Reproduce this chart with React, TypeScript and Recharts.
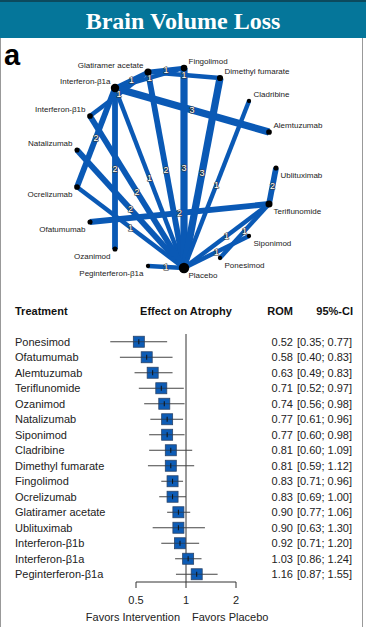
import React from 'react';
import { ScatterChart, Scatter, XAxis, YAxis, ReferenceLine, ErrorBar } from 'recharts';

// network nodes, layout units (x right, y up, centre of the ring at 0,0)
const NODE_NAMES = [
  'Fingolimod', 'Glatiramer acetate', 'Interferon-β1a', 'Interferon-β1b', 'Natalizumab',
  'Ocrelizumab', 'Ofatumumab', 'Ozanimod', 'Peginterferon-β1a', 'Placebo', 'Ponesimod',
  'Siponimod', 'Teriflunomide', 'Ublituximab', 'Alemtuzumab', 'Cladribine', 'Dimethyl fumarate',
];
const NODE_X = [0, -36, -69, -94, -107, -107, -94, -69, -36, 0, 36, 65, 85, 92, 85, 65, 36];
const NODE_Y = [100, 96, 80, 52, 18, -19, -54, -81, -98, -100, -90, -68, -36, 0, 36, 67, 90];

// direct comparisons: [treatment, treatment, number of studies]
const EDGES: [string, string, number][] = [
  ['Interferon-β1a', 'Glatiramer acetate', 1],
  ['Glatiramer acetate', 'Fingolimod', 1],
  ['Interferon-β1a', 'Fingolimod', 1],
  ['Glatiramer acetate', 'Dimethyl fumarate', 1],
  ['Interferon-β1b', 'Glatiramer acetate', 1],
  ['Interferon-β1a', 'Alemtuzumab', 3],
  ['Interferon-β1a', 'Ocrelizumab', 2],
  ['Interferon-β1a', 'Ozanimod', 2],
  ['Interferon-β1a', 'Placebo', 1],
  ['Glatiramer acetate', 'Placebo', 2],
  ['Fingolimod', 'Placebo', 3],
  ['Dimethyl fumarate', 'Placebo', 3],
  ['Cladribine', 'Placebo', 1],
  ['Interferon-β1b', 'Placebo', 2],
  ['Natalizumab', 'Placebo', 2],
  ['Ocrelizumab', 'Placebo', 1],
  ['Ofatumumab', 'Teriflunomide', 2],
  ['Ublituximab', 'Teriflunomide', 2],
  ['Teriflunomide', 'Placebo', 1],
  ['Teriflunomide', 'Ponesimod', 1],
  ['Siponimod', 'Placebo', 1],
  ['Peginterferon-β1a', 'Placebo', 1],
];

// forest plot
const TREATMENTS = [
  'Ponesimod', 'Ofatumumab', 'Alemtuzumab', 'Teriflunomide', 'Ozanimod', 'Natalizumab',
  'Siponimod', 'Cladribine', 'Dimethyl fumarate', 'Fingolimod', 'Ocrelizumab',
  'Glatiramer acetate', 'Ublituximab', 'Interferon-β1b', 'Interferon-β1a', 'Peginterferon-β1a',
];
const ROM = [0.52, 0.58, 0.63, 0.71, 0.74, 0.77, 0.77, 0.81, 0.81, 0.83, 0.83, 0.9, 0.9, 0.92, 1.03, 1.16];
const CI_LOW = [0.35, 0.4, 0.49, 0.52, 0.56, 0.61, 0.6, 0.6, 0.59, 0.71, 0.69, 0.77, 0.63, 0.71, 0.86, 0.87];
const CI_HIGH = [0.77, 0.83, 0.83, 0.97, 0.98, 0.96, 0.98, 1.09, 1.12, 0.96, 1.0, 1.06, 1.3, 1.2, 1.24, 1.55];
const X_TICKS = [0.5, 1, 2];

const BLUE = '#0a59b5';
const FONT = '"Liberation Sans", Arial, Helvetica, sans-serif';
const HEADER_ROW = -2;

const nodes = NODE_NAMES.map((name, i) => {
  const studies = EDGES.filter((e) => e[0] === name || e[1] === name).reduce((s, e) => s + e[2], 0);
  return { name, x: NODE_X[i], y: NODE_Y[i], studies };
});
const nodeByName = (n: string) => nodes.find((d) => d.name === n)!;
const edges = EDGES.map(([a, b, n]) => {
  const p = nodeByName(a);
  const q = nodeByName(b);
  return { a: p, b: q, n, x: (p.x + q.x) / 2, y: (p.y + q.y) / 2 };
});

const rows = TREATMENTS.map((name, i) => ({
  name,
  row: i,
  rom: ROM[i],
  err: [ROM[i] - CI_LOW[i], CI_HIGH[i] - ROM[i]],
}));

const NodeShape = (p: any) => {
  const { cx, cy, payload } = p;
  const r = 1.2 + 0.95 * Math.sqrt(payload.studies);
  const right = payload.x >= 0;
  const above = payload.y > 8;
  return (
    <g>
      <circle cx={cx} cy={cy} r={r} fill="#000" />
      <text
        x={cx + (right ? 4.5 : -4.5)}
        y={cy + (above ? -6.5 : 7.5)}
        dy="0.35em"
        textAnchor={right ? 'start' : 'end'}
        fontSize={8}
        fontFamily={FONT}
        fill="#222"
      >
        {payload.name}
      </text>
    </g>
  );
};

const EdgeLabel = (p: any) => (
  <text
    x={p.cx}
    y={p.cy}
    dy="0.36em"
    textAnchor="middle"
    fontSize={9}
    fontFamily={FONT}
    fill="#ffffff"
    stroke="#333"
    strokeWidth={1.2}
    paintOrder="stroke"
  >
    {p.payload.n}
  </text>
);

const Square = (p: any) => {
  const { cx, cy } = p;
  return (
    <g>
      <rect x={cx - 5.5} y={cy - 5.5} width={11} height={11} fill="#0d5cb6" stroke="#2b4468" strokeWidth={0.8} />
      <line x1={cx - 5.5} x2={cx + 5.5} y1={cy} y2={cy} stroke="#333" strokeWidth={0.6} />
      <line x1={cx} x2={cx} y1={cy - 2.5} y2={cy + 2.5} stroke="#111" strokeWidth={1} />
    </g>
  );
};

const RowTick = (p: any) => {
  const { y, payload } = p;
  const i = payload.value;
  if (i === HEADER_ROW) {
    return (
      <g fontSize={11} fontWeight="bold" fontFamily={FONT} fill="#111">
        <text x={15} y={y} dy="0.35em">Treatment</text>
        <text x={186} y={y} dy="0.35em" textAnchor="middle">Effect on Atrophy</text>
        <text x={293} y={y} dy="0.35em" textAnchor="end">ROM</text>
        <text x={353} y={y} dy="0.35em" textAnchor="end">95%-CI</text>
      </g>
    );
  }
  return (
    <g fontSize={11} fontFamily={FONT} fill="#222">
      <text x={15} y={y} dy="0.35em">{TREATMENTS[i]}</text>
      <text x={293} y={y} dy="0.35em" textAnchor="end">{ROM[i].toFixed(2)}</text>
      <text x={352} y={y} dy="0.35em" textAnchor="end">
        [{CI_LOW[i].toFixed(2)}; {CI_HIGH[i].toFixed(2)}]
      </text>
    </g>
  );
};

const AxisTick = (p: any) => {
  const { x, y, payload } = p;
  return (
    <g fontSize={11} fontFamily={FONT} fill="#222">
      <text x={x} y={y} dy="0.71em" textAnchor="middle">{payload.value}</text>
      {payload.value === 1 && (
        <>
          <text x={x - 6} y={y + 17} dy="0.71em" textAnchor="end">Favors Intervention</text>
          <text x={x + 6} y={y + 17} dy="0.71em" textAnchor="start">Favors Placebo</text>
        </>
      )}
    </g>
  );
};

export default function App() {
  return (
    <div
      style={{
        position: 'absolute',
        left: 0,
        top: 0,
        width: 366,
        height: 627,
        background: '#fff',
        overflow: 'hidden',
        fontFamily: FONT,
      }}
    >
      <div style={{ position: 'absolute', left: 0, top: 0, width: 366, height: 38, background: '#05769a' }} />
      <div style={{ position: 'absolute', left: 0, top: 0, width: 366, height: 2, background: '#0c4a5e' }} />
      <div
        style={{
          position: 'absolute',
          left: 0,
          top: 3,
          width: 366,
          lineHeight: '36px',
          textAlign: 'center',
          color: '#fff',
          fontFamily: '"Liberation Serif", "Times New Roman", serif',
          fontWeight: 'bold',
          fontSize: 24,
        }}
      >
        Brain Volume Loss
      </div>
      <div style={{ position: 'absolute', left: 0, top: 38, width: 1, height: 589, background: '#999' }} />
      <div style={{ position: 'absolute', left: 362, top: 38, width: 1, height: 589, background: '#999' }} />
      <div
        style={{
          position: 'absolute',
          left: 4,
          top: 41,
          fontSize: 29,
          lineHeight: '29px',
          fontWeight: 'bold',
          color: '#000',
        }}
      >
        a
      </div>

      <div style={{ position: 'absolute', left: 0, top: 40 }}>
        <ScatterChart width={366} height={250} margin={{ top: 0, right: 0, bottom: 0, left: 0 }}>
          <XAxis type="number" dataKey="x" domain={[-184, 182]} allowDataOverflow hide />
          <YAxis type="number" dataKey="y" domain={[-122, 128]} allowDataOverflow hide />
          {edges.map((e, i) => (
            <ReferenceLine
              key={i}
              segment={[{ x: e.a.x, y: e.a.y }, { x: e.b.x, y: e.b.y }]}
              stroke={BLUE}
              strokeWidth={3 + 1.4 * e.n}
              ifOverflow="visible"
            />
          ))}
          <Scatter data={edges} shape={EdgeLabel} isAnimationActive={false} />
          <Scatter data={nodes} shape={NodeShape} isAnimationActive={false} />
        </ScatterChart>
      </div>

      <div style={{ position: 'absolute', left: 0, top: 295 }}>
        <ScatterChart width={366} height={332} margin={{ top: 8, right: 0, bottom: 0, left: 0 }}>
          <XAxis
            type="number"
            dataKey="rom"
            scale="log"
            domain={[0.25, 4]}
            ticks={X_TICKS}
            axisLine={false}
            tickLine={{ stroke: '#333' }}
            tickSize={6}
            tickMargin={8}
            height={45}
            interval={0}
            tick={AxisTick}
          />
          <YAxis
            type="number"
            dataKey="row"
            domain={[-2.5, 15.5]}
            reversed
            ticks={[HEADER_ROW, ...TREATMENTS.map((_, i) => i)]}
            interval={0}
            width={86}
            axisLine={false}
            tickLine={false}
            tick={RowTick}
          />
          <YAxis yAxisId="pad" orientation="right" width={80} axisLine={false} tickLine={false} tick={false} />
          <ReferenceLine segment={[{ x: 1, y: -0.5 }, { x: 1, y: 15.5 }]} stroke="#333" ifOverflow="visible" />
          <ReferenceLine segment={[{ x: 0.5, y: 15.5 }, { x: 2, y: 15.5 }]} stroke="#333" ifOverflow="visible" />
          <Scatter data={rows} shape={Square} isAnimationActive={false}>
            <ErrorBar dataKey="err" direction="x" width={0} stroke="#444" strokeWidth={1} />
          </Scatter>
        </ScatterChart>
      </div>
    </div>
  );
}
